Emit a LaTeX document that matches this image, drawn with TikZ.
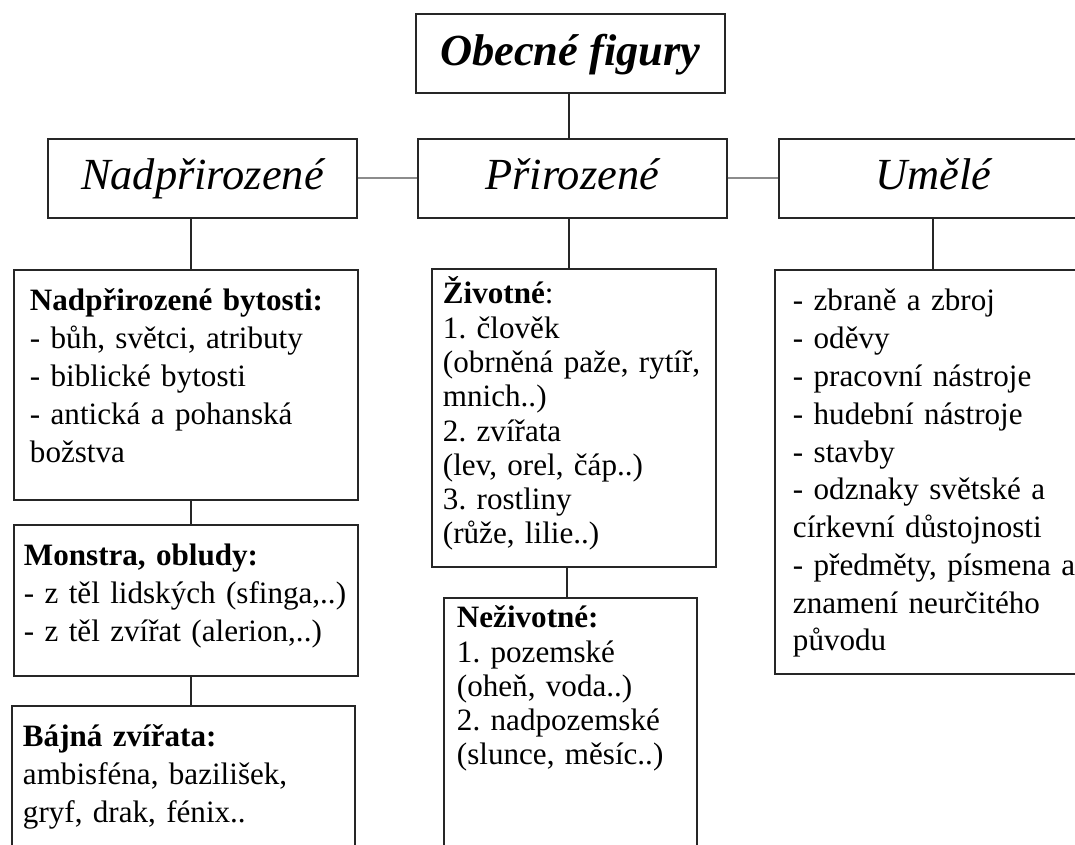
\documentclass[tikz,border=0pt]{standalone}
\usepackage{fontspec}
\setmainfont{Liberation Serif}
\usetikzlibrary{positioning}

\begin{document}
\begin{tikzpicture}[x=0.02cm, y=-0.02cm,
headnode/.style={rectangle, draw=black!85, line width=1.1pt, anchor=north west, minimum width=6.18cm, inner ysep=0pt, text height=1.02cm, text depth=0.56cm, font=\fontsize{25.3pt}{30pt}\selectfont\itshape},
listnode/.style={rectangle, draw=black!85, line width=1.1pt, anchor=north west, align=left, inner ysep=0pt, text height=0.82cm, font=\fontsize{17.7pt}{21.5pt}\selectfont\frenchspacing},
denselist/.style={listnode, font=\fontsize{17.7pt}{19.5pt}\selectfont\frenchspacing},
branch/.style={draw=black!85, line width=1.1pt},
link/.style={draw=black!45, line width=1.1pt},
]
\useasboundingbox (0,0) rectangle (1075,845);
\clip (0,0) rectangle (1075,845);

% Main categories
\node[headnode]    (nadpr)   at (47,138)                 {Nadpřirozené};
\node[headnode]    (prir)    [right=1.18cm of nadpr]     {Přirozené};
\node[headnode]    (umele)   [right=1cm of prir]         {Umělé};
\node[headnode]    (obecne)  [above=0.88cm of prir, xshift=-0.04cm] {\bfseries Obecné figury};

% Supernatural column
\node[listnode, inner xsep=0.32cm, text width=6.24cm, text depth=3.78cm] (bytosti) at (13,269)
  {\textbf{Nadpřirozené bytosti:}\\- bůh, světci, atributy\\- biblické bytosti\\- antická a pohanská\\božstva};
\node[listnode, inner xsep=0.2cm, text width=6.48cm, text depth=2.2cm] (monstra) [below=0.46cm of bytosti]
  {\textbf{Monstra, obludy:}\\- z těl lidských (sfinga,..)\\- z těl zvířat (alerion,..)};
\node[listnode, inner xsep=0.22cm, text width=6.42cm, text depth=2.36cm] (bajna) [below=0.56cm of monstra, xshift=-0.05cm]
  {\textbf{Bájná zvířata:}\\ambisféna, bazilišek,\\gryf, drak, fénix..};

% Natural column
\node[denselist, inner xsep=0.22cm, text width=5.24cm, text height=0.7cm, text depth=5.26cm] (zivotne) at (431,268)
  {\textbf{Životné}:\\1. člověk\\(obrněná paže, rytíř,\\mnich..)\\2. zvířata\\(lev, orel, čáp..)\\3. rostliny\\(růže, lilie..)};
\node[denselist, inner xsep=0.26cm, text width=4.54cm, text height=0.6cm, text depth=4.7cm] (nezivotne) [below=0.58cm of zivotne, xshift=-0.07cm]
  {\textbf{Neživotné:}\\1. pozemské\\(oheň, voda..)\\2. nadpozemské\\(slunce, měsíc..)};

% Artificial column
\node[listnode, inner xsep=0.36cm, text width=5.88cm, text depth=7.26cm] (umelelist) at (774,269)
  {- zbraně a zbroj\\- oděvy\\- pracovní nástroje\\- hudební nástroje\\- stavby\\- odznaky světské a\\církevní důstojnosti\\- předměty, písmena a\\znamení neurčitého\\původu};

% Connectors
\draw[branch] ([xshift=-0.03cm]obecne.south) -- ([xshift=-0.03cm]obecne.south |- prir.north);
\draw[link] (nadpr.east) -- (prir.west);
\draw[link] (prir.east) -- (umele.west);
\draw[branch] ([xshift=-0.23cm]nadpr.south) -- ([xshift=-0.23cm]nadpr.south |- bytosti.north);
\draw[branch] ([xshift=0.1cm]bytosti.south) -- ([xshift=0.1cm]bytosti.south |- monstra.north);
\draw[branch] ([xshift=0.1cm]monstra.south) -- ([xshift=0.1cm]monstra.south |- bajna.north);
\draw[branch] ([xshift=-0.07cm]prir.south) -- ([xshift=-0.07cm]prir.south |- zivotne.north);
\draw[branch] ([xshift=-0.14cm]zivotne.south) -- ([xshift=-0.14cm]zivotne.south |- nezivotne.north);
\draw[branch] (umele.south) -- (umele.south |- umelelist.north);
\end{tikzpicture}
\end{document}
